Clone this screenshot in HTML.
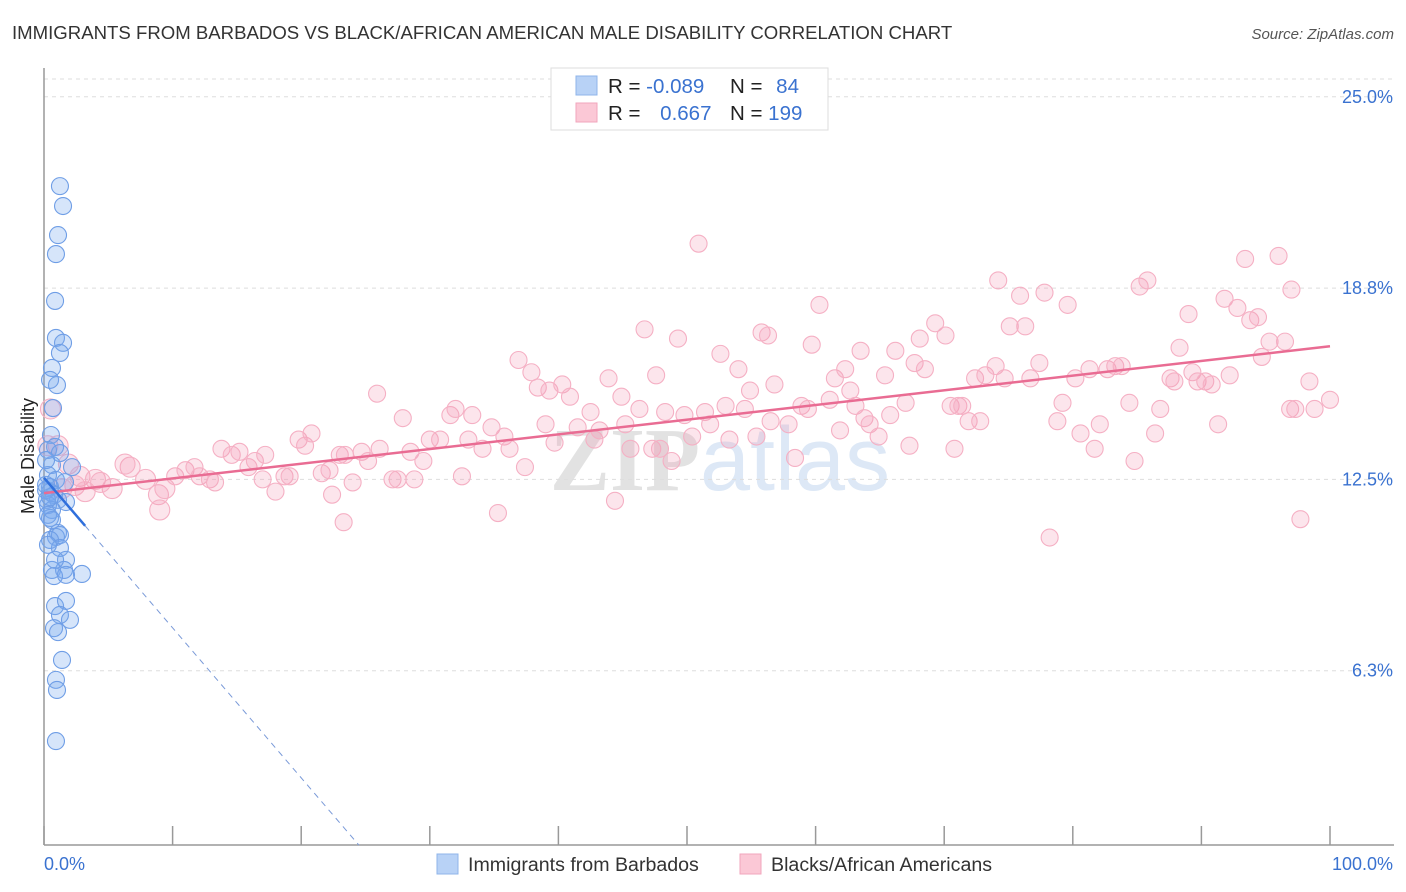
<!DOCTYPE html>
<html><head><meta charset="utf-8"><style>
body{margin:0;background:#fff;font-family:"Liberation Sans",sans-serif;}
svg{display:block}
</style></head><body>
<svg id="c" width="1406" height="892">
<text x="12" y="39" font-size="18.6" fill="#333">IMMIGRANTS FROM BARBADOS VS BLACK/AFRICAN AMERICAN MALE DISABILITY CORRELATION CHART</text>
<text x="1394" y="39" font-size="15" fill="#555" font-style="italic" text-anchor="end">Source: ZipAtlas.com</text>
<text x="720" y="490" font-size="90" fill="#e8e8ec" text-anchor="middle" font-weight="bold"><tspan fill="#e2e2e2" font-family="Liberation Serif">ZIP</tspan><tspan fill="#dde8f6" font-weight="normal">atlas</tspan></text>
<g id="grid"></g><g id="axes"></g><g id="pts"></g><g id="trend"></g>
<g>
<rect x="551" y="68" width="277" height="62" fill="#fff" stroke="#ddd"/>
<rect x="576" y="76" width="21" height="19" fill="#b8d2f6" stroke="#8fb4ea"/>
<rect x="576" y="103" width="21" height="19" fill="#fbc8d6" stroke="#f2a6bc"/>
<text x="608" y="93" font-size="20.5" fill="#222">R = <tspan fill="#3a72d0">-0.089</tspan></text>
<text x="730" y="93" font-size="20.5" fill="#222">N = <tspan fill="#3a72d0" dx="8">84</tspan></text>
<text x="608" y="120" font-size="20.5" fill="#222">R = <tspan fill="#3a72d0" dx="14">0.667</tspan></text>
<text x="730" y="120" font-size="20.5" fill="#222">N = <tspan fill="#3a72d0">199</tspan></text>
</g>
<g>
<rect x="437" y="854" width="21" height="20" fill="#b8d2f6" stroke="#8fb4ea"/>
<text x="468" y="871" font-size="19.6" fill="#333">Immigrants from Barbados</text>
<rect x="740" y="854" width="21" height="20" fill="#fbc8d6" stroke="#f2a6bc"/>
<text x="771" y="871" font-size="19.6" fill="#333">Blacks/African Americans</text>
</g>
<text transform="translate(34,456) rotate(-90)" font-size="18" fill="#222" text-anchor="middle">Male Disability</text>
</svg>
<script>
const yTicks=[6.25,12.5,18.75,25];
const yTickLabels=["6.3%","12.5%","18.8%","25.0%"];
const xTicks=[0,10,20,30,40,50,60,70,80,90,100];
const blueX=[1.24,1.48,1.09,0.93,0.86,0.93,1.48,1.24,0.62,1.01,0.47,0.70,0.54,0.86,0.31,1.24,0.62,2.18,0.31,0.93,0.47,1.63,0.47,0.78,1.09,1.71,0.31,0.62,0.47,1.09,0.93,1.24,0.47,1.24,1.71,0.62,1.56,2.95,0.78,1.71,0.86,1.71,1.24,2.02,0.78,1.09,1.40,0.93,1.01,0.93,0.16,0.23,0.47,0.16,0.31,0.16,0.62,0.86,0.31];
const blueY=[22.08,21.43,20.48,19.86,18.33,17.12,16.96,16.63,16.14,15.58,15.75,14.83,13.95,13.56,13.46,13.36,12.97,12.90,12.64,12.48,12.25,12.41,12.09,11.99,11.83,11.76,11.66,11.50,11.24,10.75,10.62,10.68,10.52,10.26,9.87,9.54,9.54,9.41,9.34,9.38,8.36,8.53,8.07,7.91,7.64,7.51,6.60,5.95,5.62,3.95,12.15,11.83,11.92,12.32,11.34,13.13,11.17,9.87,10.36];
const pink=[[0.5,14.8],[1.1,13.6],[1.9,13.0],[2.8,12.6],[4.0,12.5],[5.3,12.2],[4.4,12.4],[2.4,12.3],[6.7,12.9],[6.3,13.0],[7.9,12.5],[8.9,12.0],[9.4,12.2],[10.2,12.6],[11.0,12.8],[11.7,12.9],[12.1,12.6],[12.9,12.5],[13.3,12.4],[13.8,13.5],[14.6,13.3],[15.2,13.4],[15.9,12.9],[16.4,13.1],[17.2,13.3],[17.0,12.5],[18.0,12.1],[18.7,12.6],[19.1,12.6],[19.8,13.8],[20.3,13.6],[20.8,14.0],[21.6,12.7],[22.2,12.8],[23.0,13.3],[23.4,13.3],[24.0,12.4],[22.4,12.0],[23.3,11.1],[24.7,13.4],[25.2,13.1],[25.9,15.3],[26.1,13.5],[27.1,12.5],[27.5,12.5],[27.9,14.5],[28.5,13.4],[28.8,12.5],[29.5,13.1],[30.0,13.8],[30.8,13.8],[31.6,14.6],[32.0,14.8],[32.5,12.6],[33.0,13.8],[33.3,14.6],[34.1,13.5],[34.8,14.2],[35.3,11.4],[35.8,13.9],[36.2,13.5],[36.9,16.4],[37.4,12.9],[37.9,16.0],[38.4,15.5],[39.0,14.3],[39.3,15.4],[39.7,13.7],[40.3,15.6],[40.9,15.2],[41.5,14.2],[42.5,14.7],[42.8,13.8],[43.2,14.1],[43.9,15.8],[44.4,11.8],[44.9,15.2],[45.2,14.3],[45.6,13.5],[46.3,14.8],[46.7,17.4],[47.3,13.5],[47.6,15.9],[47.9,13.5],[48.3,14.7],[48.8,13.1],[49.3,17.1],[49.8,14.6],[50.4,13.9],[50.9,20.2],[51.4,14.7],[51.8,14.3],[52.6,16.6],[53.0,14.9],[53.3,13.8],[54.0,16.1],[54.5,14.8],[54.9,15.4],[55.4,13.9],[55.8,17.3],[56.3,17.2],[56.5,14.4],[56.8,15.6],[57.9,14.3],[58.4,13.2],[58.9,14.9],[59.4,14.8],[59.7,16.9],[60.3,18.2],[61.1,15.1],[61.5,15.8],[61.9,14.1],[62.3,16.1],[62.7,15.4],[63.1,14.9],[63.5,16.7],[63.8,14.5],[64.2,14.3],[64.9,13.9],[65.4,15.9],[65.8,14.6],[66.2,16.7],[67.0,15.0],[67.3,13.6],[67.7,16.3],[68.1,17.1],[68.5,16.1],[69.3,17.6],[70.1,17.2],[70.5,14.9],[70.8,13.5],[71.1,14.9],[71.4,14.9],[71.9,14.4],[72.4,15.8],[72.8,14.4],[73.2,15.9],[74.0,16.2],[74.2,19.0],[74.7,15.8],[75.1,17.5],[75.9,18.5],[76.3,17.5],[76.7,15.8],[77.4,16.3],[77.8,18.6],[78.8,14.4],[79.2,15.0],[79.6,18.2],[80.2,15.8],[80.6,14.0],[81.3,16.1],[81.7,13.5],[82.1,14.3],[82.7,16.1],[83.3,16.2],[83.8,16.2],[84.4,15.0],[84.8,13.1],[85.2,18.8],[85.8,19.0],[86.4,14.0],[86.8,14.8],[87.6,15.8],[87.9,15.7],[88.3,16.8],[89.0,17.9],[89.3,16.0],[89.7,15.7],[90.3,15.7],[90.8,15.6],[91.3,14.3],[91.8,18.4],[92.2,15.9],[92.8,18.1],[93.4,19.7],[93.8,17.7],[94.4,17.8],[94.7,16.5],[95.3,17.0],[96.0,19.8],[96.5,17.0],[97.0,18.7],[97.7,11.2],[96.9,14.8],[98.4,15.7],[98.8,14.8],[100,15.1],[97.3,14.8],[78.2,10.6],[0.3,13.6],[1.4,12.2],[3.2,12.1],[9.0,11.5]];
const blueTrend=[12.55,-0.49];
const pinkTrend=[12.05,0.048];

const NS="http://www.w3.org/2000/svg";
const X0=44,X1=1330,Y0=862,PY=30.61;
const xs=v=>X0+(X1-X0)*v/100;
const ys=v=>Y0-v*PY;
function mk(tag,attrs,parent){const e=document.createElementNS(NS,tag);for(const k in attrs)e.setAttribute(k,attrs[k]);document.getElementById(parent).appendChild(e);return e;}
yTicks.forEach((t,i)=>{
 const l=mk('line',{x1:X0,x2:1394,y1:ys(t),y2:ys(t),stroke:'#ddd','stroke-dasharray':'4,4'},'grid');
 
 
 const tx=mk('text',{x:1393,y:ys(t)+6,'font-size':18,fill:'#3a72d0','text-anchor':'end'},'grid');
 tx.textContent=yTickLabels[i];
 
 
});
const tl=mk('line',{x1:X0,x2:1394,y1:79,y2:79,stroke:'#ddd','stroke-dasharray':'4,4'},'grid');


const ya=mk('line',{x1:X0,x2:X0,y1:68,y2:845,stroke:'#999','stroke-width':1.5},'axes');


const xa=mk('line',{x1:X0,x2:1394,y1:845,y2:845,stroke:'#999','stroke-width':1.5},'axes');


xTicks.forEach(t=>{
 const l=mk('line',{x1:xs(t),x2:xs(t),y1:826,y2:845,stroke:'#999','stroke-width':1.5},'axes');
 
 
});
const xl0=mk('text',{x:44,y:870,'font-size':18,fill:'#3a72d0'},'axes');xl0.textContent='0.0%';


const xl1=mk('text',{x:1393,y:870,'font-size':18,fill:'#3a72d0','text-anchor':'end'},'axes');xl1.textContent='100.0%';


pink.forEach(p=>{
 const c=mk('circle',{cx:xs(p[0]),cy:ys(p[1]),r:p[0]<10?10:8.5,fill:'rgba(244,150,178,0.25)',stroke:'#f5b0c4','stroke-width':1.1},'pts');
 
 
});
blueX.forEach((v,i)=>{
 const c=mk('circle',{cx:xs(v),cy:ys(blueY[i]),r:8.5,fill:'rgba(120,168,238,0.3)',stroke:'#6f9ee6','stroke-width':1.1},'pts');
 
 
});
const pl=mk('line',{x1:xs(0),y1:ys(pinkTrend[0]),x2:xs(100),y2:ys(pinkTrend[0]+pinkTrend[1]*100),stroke:'#e96c93','stroke-width':2.5},'trend');


const bl=mk('line',{x1:xs(0),y1:ys(blueTrend[0]),x2:xs(3.2),y2:ys(blueTrend[0]+blueTrend[1]*3.2),stroke:'#2f6fdc','stroke-width':2.5},'trend');


const xEnd=(0.55-blueTrend[0])/blueTrend[1];
const bd=mk('line',{x1:xs(3.2),y1:ys(blueTrend[0]+blueTrend[1]*3.2),x2:xs(xEnd),y2:ys(blueTrend[0]+blueTrend[1]*xEnd),stroke:'#7a9ad8','stroke-width':1,'stroke-dasharray':'6,5'},'trend');


</script>
</body></html>
